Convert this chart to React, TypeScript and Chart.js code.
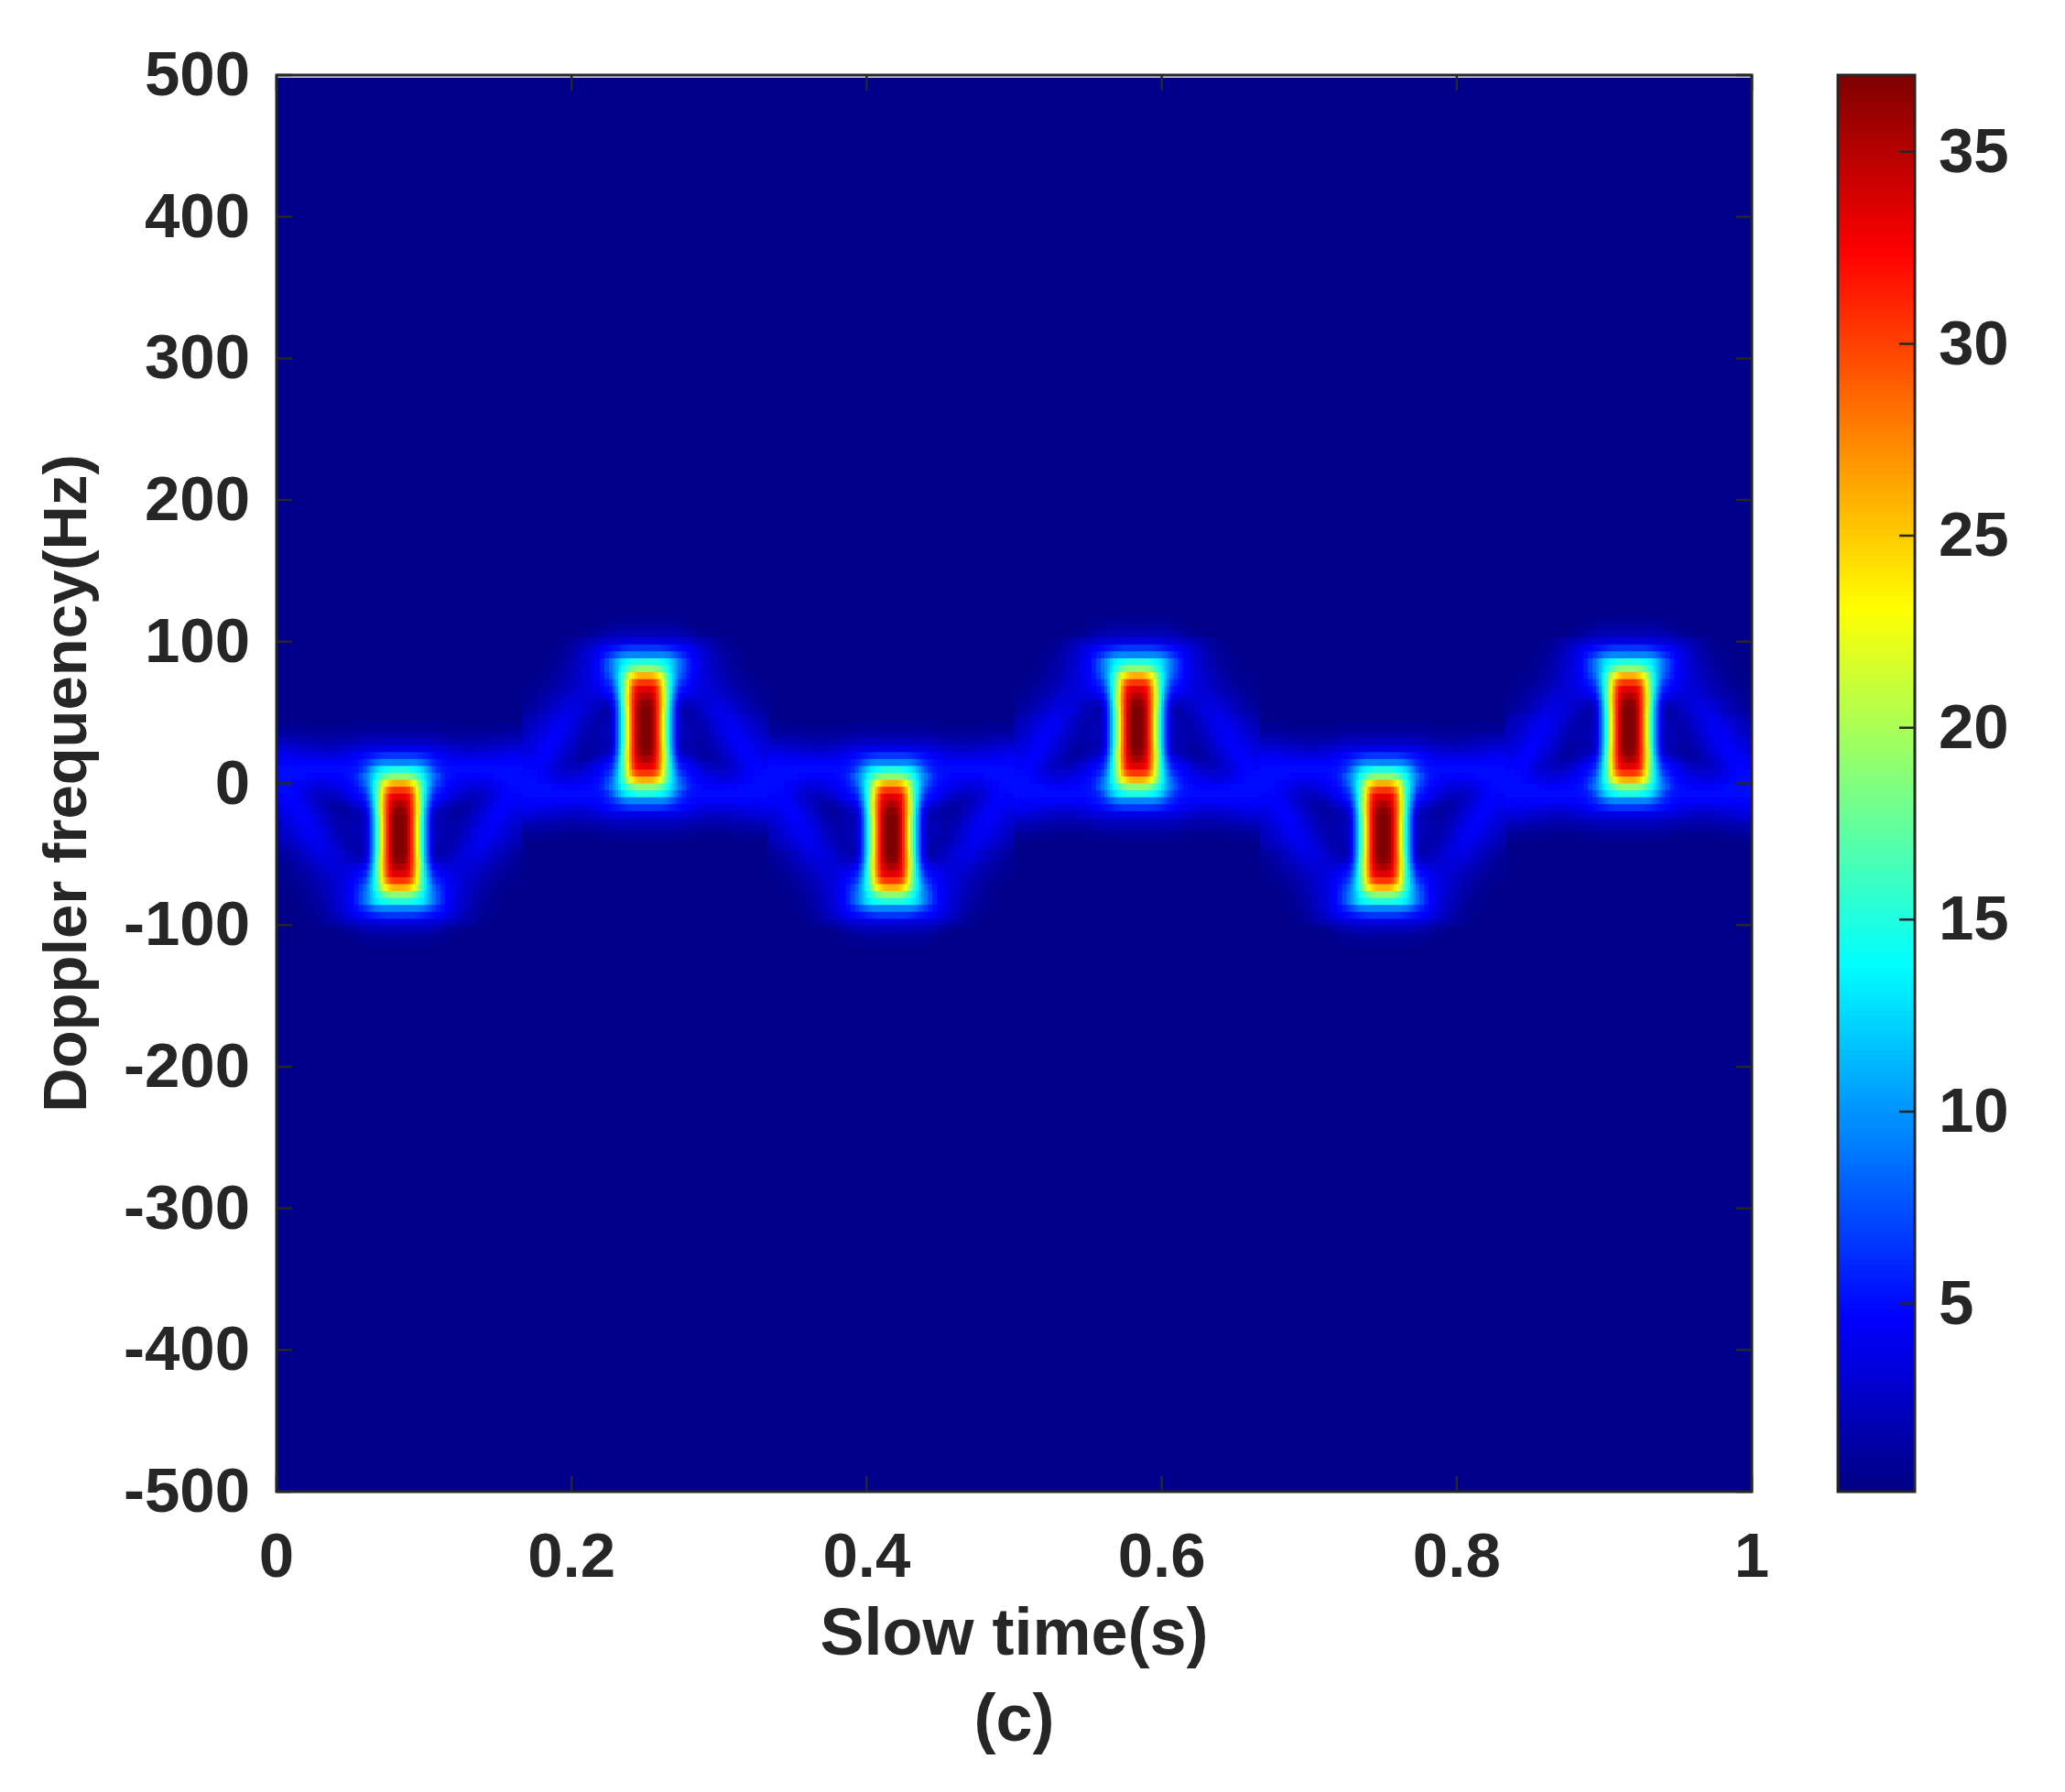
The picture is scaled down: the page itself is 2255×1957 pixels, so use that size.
import React, { useEffect, useRef } from "react";
import { Chart, registerables } from "chart.js";

Chart.register(...registerables);

const W = 2255;
const H = 1957;

// Slow-time (s) positions of the six returns and their Doppler centre (Hz)
const blobTimes = [0.0833, 0.25, 0.4167, 0.5833, 0.75, 0.9167];
const blobDoppler = [-36.5, 39, -36.5, 39, -36.5, 39];

// Doppler distance from the return's centre; positive = away from the 0 Hz band
const rowOffsets = [
  76, 71.1, 66.2, 61.3, 56.4, 51.5, 46.6, 41.7, 36.8, 31.9, 27, 22.1, 17.2, 12.3, 7.4, 2.5,
  -2.5, -7.4, -12.3, -17.2, -22.1, -27, -31.9, -36.8, -41.7, -46.6, -51.5, -56.4, -61.3, -66.2, -71.1, -76,
];

// Slow-time distance from the return's centre, cell edges (s)
const colEdges = [
  0, 0.00186, 0.00372, 0.00559, 0.00745, 0.00931, 0.01117, 0.01304, 0.0149, 0.01676, 0.01862, 0.02049, 0.02235,
  0.02483, 0.02794, 0.03104, 0.03476, 0.03849, 0.04346, 0.04842, 0.05338, 0.05835, 0.06331, 0.06828, 0.07324, 0.07821, 0.08335,
];

// Magnitude: one row per rowOffsets, one value per colEdges cell
const tile = [
  [0.7,0.7,0.7,0.7,0.7,0.7,0.7,0.7,0.7,0.7,0.7,0.7,0.6,0.6,0.5,0.5,0.4,0.4,0.4,0.4,0.4,0.4,0.4,0.4,0.4,0.4],
  [1.2,1.2,1.2,1.2,1.2,1.2,1.2,1.2,1.2,1.2,1.1,1.1,1,0.9,0.8,0.6,0.5,0.4,0.4,0.4,0.4,0.4,0.4,0.4,0.4,0.4],
  [2,2,2,2,2,2,2,2,2,2,2,1.9,1.8,1.7,1.5,1.2,0.9,0.7,0.5,0.4,0.4,0.4,0.4,0.4,0.4,0.4],
  [3.5,3.5,3.5,3.5,3.5,3.5,3.5,3.5,3.4,3.4,3.3,3.2,3.1,3,2.8,2.5,2.2,1.8,1.4,1,0.7,0.5,0.4,0.4,0.4,0.4],
  [6.5,6.5,6.5,6.5,6.5,6.4,6.3,6.1,5.9,5.6,5.4,5.2,5,4.7,4.3,3.8,3.2,2.5,1.8,1.2,0.8,0.6,0.4,0.4,0.4,0.4],
  [9.5,9.5,9.5,9.5,9.5,9.5,9.4,9.2,9,8.5,7.9,7.3,6.6,5.8,5,4.4,3.6,3,2.2,1.6,1.1,0.8,0.6,0.4,0.4,0.4],
  [15,15,15,14.9,14.8,14.3,14,13.5,13,12.2,11.2,10,8.8,7.3,5.8,4.7,3.9,3,2.3,1.7,1.2,0.9,0.6,0.4,0.4,0.4],
  [19,19,19,18.7,18.3,17.5,16.5,15.3,14,12.6,11.3,10,8.8,7.3,5.8,4.7,3.9,3.2,2.5,1.9,1.4,1,0.7,0.5,0.4,0.4],
  [26,26,25.7,25,24,22.5,20.5,18,15.5,13.5,11.5,10,8.3,6.8,5.5,4.6,3.9,3.3,2.7,2.1,1.6,1.2,0.9,0.6,0.5,0.4],
  [30.5,30.5,30.2,29.5,28,25.5,22.5,19,16,13.5,11,9,7,5.8,5,4.4,3.8,3.3,2.8,2.3,1.8,1.4,1,0.8,0.6,0.5],
  [33.5,33.5,33,32,30,27,23.5,19.5,16,13,10,7.8,5.8,5,4.5,4,3.6,3.3,3,2.6,2.2,1.7,1.3,1,0.8,0.6],
  [35.5,35,34.3,33,30.5,27.5,24,20,16,12.5,9,6.5,4.8,3.9,3.5,3.3,3.2,3.2,3.2,3,2.6,2.1,1.7,1.3,0.9,0.7],
  [36.5,36.5,35.5,33.5,31,27.5,24,20,15.5,11.5,8,5.2,3.5,2.5,2.4,2.5,2.7,3,3.4,3.4,3.1,2.6,2.1,1.6,1.2,0.9],
  [37,37,36,34,31,27.5,23.5,19,15,11,7.5,4.8,2.8,1.5,1.7,2.1,2.4,3,3.6,3.7,3.5,3,2.4,1.9,1.4,1.1],
  [37,37,36,34,31,27.2,23,18.7,14.6,10.8,7.3,4.7,2.8,1.7,1.6,1.7,2,2.5,3.3,3.8,4,3.7,3.1,2.6,2.1,1.7],
  [37,37,36,34,31,27.2,23,18.7,14.6,10.8,7.3,4.7,2.8,2,1.8,1.6,1.7,2.2,2.9,3.7,4.2,4.1,3.6,3,2.5,2.1],
  [37,37,36,34,31,27.2,23,18.7,14.6,10.8,7.3,4.7,2.8,2,1.9,1.7,1.6,1.9,2.6,3.5,4.1,4.3,4,3.4,2.8,2.4],
  [37,37,36,34,31,27.2,23,18.7,14.6,10.8,7.3,4.7,2.7,2,1.9,1.7,1.5,1.7,2.2,3.1,3.8,4.4,4.3,3.8,3.2,2.8],
  [37,37,36,34,31,27.5,23.5,19,15,11,7.5,4.8,2.7,1.8,1.8,1.5,1.3,1.4,1.9,2.7,3.5,4.2,4.5,4.2,3.6,3.2],
  [36.5,36.5,35.5,33.5,31,27.5,24,20,15.5,11.5,8,5.2,3.4,2.3,2,1.7,1.3,1.2,1.6,2.3,3.1,3.8,4.5,4.5,4,3.6],
  [35.5,35,34.3,33,30.5,27.5,24,20,16,12.5,9,6.5,4.8,3.8,3.2,2.6,2,1.6,1.4,2,2.6,3.4,4.2,4.6,4.5,4.2],
  [33.5,33.5,33,32,30,27,23.5,19.5,16,13,10,7.8,5.8,5,4.5,4,3.3,2.6,2.2,2.2,2.5,3,3.8,4.5,4.7,4.6],
  [30.5,30.5,30.2,29.5,28,25.5,22.5,19,16,13.5,11,9,7,5.8,5,4.5,4,3.5,3.1,2.9,3,3.3,3.9,4.5,4.8,4.9],
  [26,26,25.7,25,24,22.5,20.5,18,15.5,13.5,11.5,10,8.3,6.8,5.6,4.9,4.5,4.2,3.9,3.7,3.7,3.9,4.2,4.7,5,5],
  [19,19,19,18.7,18.3,17.5,16.5,15.3,14,12.6,11.3,10,8.8,7.4,6,5.2,4.9,4.7,4.6,4.6,4.6,4.7,4.9,5,5,5],
  [15,15,15,14.8,14.3,14,13.5,13,12.2,11.2,10,8.8,7.4,6.2,5.5,5.2,5,5,5,5,5,5,5,5,5,5],
  [9.5,9.5,9.5,9.5,9.5,9.5,9.3,9,8.5,7.9,7.3,6.6,6,5.5,5,4.8,4.6,4.6,4.6,4.6,4.6,4.6,4.6,4.7,4.7,4.7],
  [6.5,6.5,6.5,6.5,6.5,6.4,6.3,6.1,5.9,5.6,5.4,5.2,5,4.7,4.4,4.1,3.8,3.6,3.5,3.5,3.6,3.7,3.8,4,4.1,4.2],
  [3.8,3.8,3.8,3.8,3.8,3.8,3.8,3.8,3.8,3.7,3.7,3.6,3.5,3.4,3.3,3.1,2.9,2.7,2.5,2.5,2.6,2.7,2.9,3.1,3.3,3.4],
  [2.4,2.4,2.4,2.4,2.4,2.4,2.4,2.4,2.4,2.4,2.4,2.3,2.3,2.2,2.1,2,1.8,1.7,1.7,1.7,1.8,1.9,2,2.2,2.3,2.4],
  [1.5,1.5,1.5,1.5,1.5,1.5,1.5,1.5,1.5,1.5,1.5,1.5,1.4,1.4,1.3,1.2,1.1,1.1,1.1,1.1,1.1,1.2,1.3,1.4,1.5,1.5],
  [0.9,0.9,0.9,0.9,0.9,0.9,0.9,0.9,0.9,0.9,0.9,0.9,0.8,0.8,0.7,0.7,0.6,0.6,0.6,0.6,0.6,0.7,0.7,0.8,0.9,0.9],
];

const xTicks = [0, 0.2, 0.4, 0.6, 0.8, 1];
const yTicks = [-500, -400, -300, -200, -100, 0, 100, 200, 300, 400, 500];
const cbTicks = [5, 10, 15, 20, 25, 30, 35];
const backgroundLevel = 0.4;
const cbMin = 0.1;
const cbMax = 37;
const jetStops: [number, number[]][] = [
  [0, [0, 0, 127]],
  [0.125, [0, 0, 255]],
  [0.375, [0, 255, 255]],
  [0.625, [255, 255, 0]],
  [0.875, [255, 0, 0]],
  [1, [127, 0, 0]],
];

const INK = "#262626";
const FAMILY = "'Liberation Sans', Arial, sans-serif";
const TICK_FONT = { family: FAMILY, size: 69, weight: "bold" as const, lineHeight: 1 };

function jet(v: number) {
  const t = Math.min(1, Math.max(0, v / cbMax));
  for (let i = 1; i < jetStops.length; i++) {
    const [p1, c1] = jetStops[i];
    if (t <= p1) {
      const [p0, c0] = jetStops[i - 1];
      const u = (t - p0) / (p1 - p0);
      const c = c0.map((a, k) => Math.round(a + (c1[k] - a) * u));
      return `rgb(${c[0]},${c[1]},${c[2]})`;
    }
  }
  return "rgb(127,0,0)";
}

function buildCells() {
  const data: any[] = [];
  const colors: string[] = [];
  blobTimes.forEach((tc, b) => {
    const fc = blobDoppler[b];
    const dir = fc > 0 ? 1 : -1;
    tile.forEach((row, r) => {
      row.forEach((v, c) => {
        const f = fc + dir * rowOffsets[r];
        const a = colEdges[c];
        const e = colEdges[c + 1];
        data.push({ y: f, x: [tc + a, tc + e] });
        colors.push(jet(v));
        data.push({ y: f, x: [tc - e, tc - a] });
        colors.push(jet(v));
      });
    });
  });
  return { data, colors };
}

const frame = (ticksX: number[] | null, both: boolean, len: number) => ({
  id: "frameAndTicks",
  afterDatasetsDraw(chart: any) {
    const { ctx, chartArea: a, scales } = chart;
    ctx.save();
    ctx.strokeStyle = INK;
    ctx.lineWidth = 2.5;
    ctx.beginPath();
    (ticksX || []).forEach((v) => {
      const x = scales.x.getPixelForValue(v);
      ctx.moveTo(x, a.bottom);
      ctx.lineTo(x, a.bottom - len);
      ctx.moveTo(x, a.top);
      ctx.lineTo(x, a.top + len);
    });
    const ys = ticksX ? yTicks : cbTicks;
    ys.forEach((v) => {
      const y = scales.y.getPixelForValue(v);
      ctx.moveTo(a.right, y);
      ctx.lineTo(a.right - len, y);
      if (both) {
        ctx.moveTo(a.left, y);
        ctx.lineTo(a.left + len, y);
      }
    });
    ctx.stroke();
    ctx.lineWidth = 3;
    ctx.strokeRect(a.left, a.top, a.right - a.left, a.bottom - a.top);
    ctx.restore();
  },
});

export default function App() {
  const mainRef = useRef<HTMLCanvasElement>(null);
  const barRef = useRef<HTMLCanvasElement>(null);

  useEffect(() => {
    const { data, colors } = buildCells();
    const main = new Chart(mainRef.current as HTMLCanvasElement, {
      type: "bar",
      data: {
        datasets: [
          {
            data: data,
            backgroundColor: colors,
            barThickness: 7.6,
            grouped: false,
            order: 1,
            borderWidth: 0,
          } as any,
          {
            data: [{ y: -1, x: [0, 1] }],
            backgroundColor: jet(backgroundLevel),
            barThickness: 1544,
            grouped: false,
            order: 2,
            borderWidth: 0,
          } as any,
        ],
      },
      options: {
        indexAxis: "y",
        responsive: false,
        animation: false,
        events: [],
        devicePixelRatio: 1,
        layout: { padding: { left: 0, top: 82, right: W - 1913, bottom: 0 } },
        plugins: { legend: { display: false }, tooltip: { enabled: false }, title: { display: false } },
        scales: {
          x: {
            type: "linear",
            min: 0,
            max: 1,
            offset: false,
            grid: { display: false },
            border: { display: false },
            afterBuildTicks: (s: any) => {
              s.ticks = xTicks.map((value) => ({ value }));
            },
            afterFit: (s: any) => {
              s.height = H - 1629;
            },
            ticks: {
              color: INK,
              font: TICK_FONT,
              padding: 31,
              maxRotation: 0,
              autoSkip: false,
              callback: (v: any) => String(+Number(v).toFixed(1)),
            },
            title: {
              display: true,
              text: ["Slow time(s)", "(c)"],
              color: INK,
              font: { family: FAMILY, size: 72, weight: "bold", lineHeight: 1.3 },
              padding: { top: 0, bottom: 29 },
            },
          },
          y: {
            type: "linear",
            min: -500,
            max: 500,
            offset: false,
            grid: { display: false },
            border: { display: false },
            afterBuildTicks: (s: any) => {
              s.ticks = yTicks.map((value) => ({ value }));
            },
            afterFit: (s: any) => {
              s.width = 302;
            },
            ticks: {
              color: INK,
              font: TICK_FONT,
              padding: 21,
              labelOffset: 3,
              autoSkip: false,
              callback: (v: any) => String(v),
            },
            title: {
              display: true,
              text: "Doppler frequency(Hz)",
              color: INK,
              font: { family: FAMILY, size: 67, weight: "bold", lineHeight: 1 },
              padding: { top: 42, bottom: 0 },
            },
          },
        },
      } as any,
      plugins: [frame(xTicks, true, 17)],
    });

    const levels: number[] = [];
    for (let i = 0; i < 256; i++) levels.push(cbMin + ((cbMax - cbMin) * (i + 0.5)) / 256);
    const bar = new Chart(barRef.current as HTMLCanvasElement, {
      type: "bar",
      data: {
        datasets: [
          {
            data: levels.map((y) => ({ y, x: [0, 1] })),
            backgroundColor: levels.map(jet),
            barThickness: 1547 / 256 + 0.5,
            grouped: false,
            borderWidth: 0,
          } as any,
        ],
      },
      options: {
        indexAxis: "y",
        responsive: false,
        animation: false,
        events: [],
        devicePixelRatio: 1,
        layout: { padding: { left: 17, top: 82, right: 0, bottom: H - 1629 } },
        plugins: { legend: { display: false }, tooltip: { enabled: false } },
        scales: {
          x: { type: "linear", min: 0, max: 1, offset: false, display: false },
          y: {
            type: "linear",
            position: "right",
            min: cbMin,
            max: cbMax,
            offset: false,
            grid: { display: false },
            border: { display: false },
            afterBuildTicks: (s: any) => {
              s.ticks = cbTicks.map((value) => ({ value }));
            },
            afterFit: (s: any) => {
              s.width = W - 2091;
            },
            ticks: { color: INK, font: TICK_FONT, padding: 18, labelOffset: 3, autoSkip: false, callback: (v: any) => String(v) },
          },
        },
      } as any,
      plugins: [frame(null, false, 17)],
    });

    return () => {
      main.destroy();
      bar.destroy();
    };
  }, []);

  return (
    <div style={{ position: "absolute", left: 0, top: 0, width: W, height: H, background: "#fff", overflow: "hidden" }}>
      <canvas ref={mainRef} width={W} height={H} style={{ position: "absolute", left: 0, top: 0 }} />
      <canvas ref={barRef} width={W - 1990} height={H} style={{ position: "absolute", left: 1990, top: 0 }} />
    </div>
  );
}
